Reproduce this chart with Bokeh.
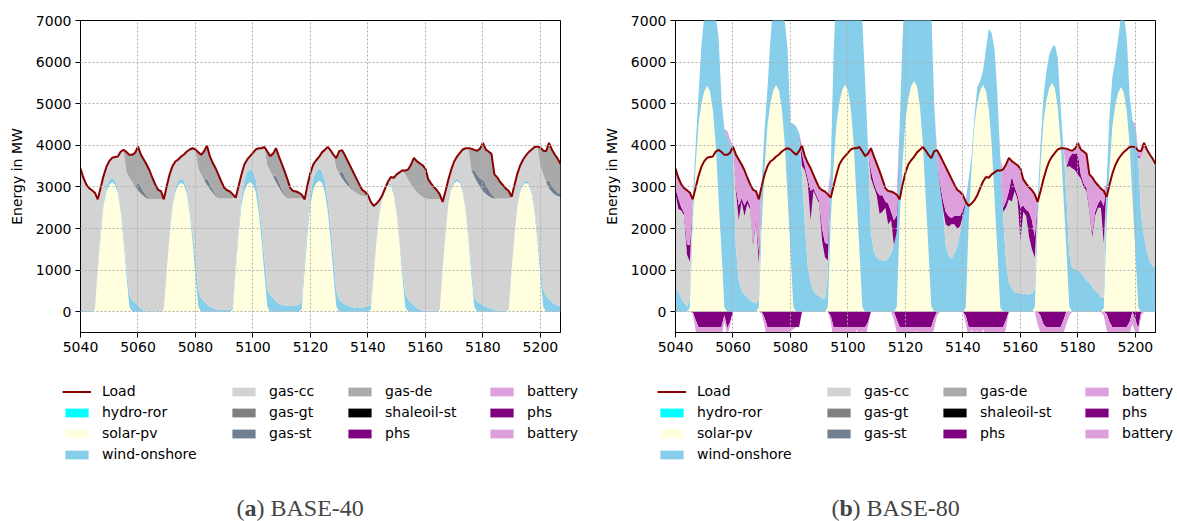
from bokeh.plotting import figure
from bokeh.models import ColumnDataSource, Range1d, FixedTicker, Legend, LegendItem, Label
from bokeh.layouts import row, column
from bokeh.embed import file_html
from bokeh.resources import INLINE

HOURS = list(range(5040, 5208))
X_TICKS = [5040, 5060, 5080, 5100, 5120, 5140, 5160, 5180, 5200]
Y_TICKS = [0, 1000, 2000, 3000, 4000, 5000, 6000, 7000]

LOAD = [
    3440, 3220, 3060, 2970, 2920, 2860, 2700, 2980, 3260, 3480, 3620, 3700, 3720, 3730, 3850, 3890, 3840, 3770, 3770, 3820, 3970, 3780, 3660, 3540,
    3400, 3220, 3060, 2930, 2900, 2700, 3020, 3300, 3500, 3610, 3660, 3730, 3780, 3850, 3900, 3930, 3900, 3830, 3770, 3860, 3990, 3740, 3580, 3450,
    3290, 3130, 2980, 2920, 2890, 2820, 2740, 3020, 3300, 3540, 3660, 3740, 3820, 3900, 3930, 3930, 3960, 3850, 3740, 3800, 3930, 3740, 3560, 3380,
    3180, 2970, 2900, 2890, 2860, 2810, 2700, 3060, 3340, 3540, 3640, 3720, 3830, 3890, 3960, 3880, 3770, 3690, 3860, 3880, 3760, 3620, 3480, 3340,
    3200, 3060, 2930, 2880, 2800, 2640, 2540, 2600, 2680, 2800, 2970, 3130, 3240, 3220, 3300, 3350, 3400, 3390, 3420, 3540, 3700, 3620, 3570, 3520,
    3440, 3180, 3080, 2990, 2920, 2820, 2640, 2900, 3180, 3420, 3610, 3730, 3820, 3900, 3930, 3930, 3920, 3890, 3870, 3920, 4060, 3900, 3850, 3790,
    3300, 3230, 3120, 3040, 2960, 2900, 2760, 3050, 3320, 3520, 3660, 3760, 3840, 3900, 3960, 3970, 3950, 3870, 3860, 4060, 3900, 3780, 3680, 3550,
]

# ---------------- BASE-40 ----------------
A_SOLAR = [
    0, 0, 0, 0, 0, 60, 1000, 1850, 2550, 2900, 3050, 3110, 3060, 2850, 2400, 1700, 880, 120, 0, 0, 0, 0, 0, 0,
    0, 0, 0, 0, 0, 50, 980, 1820, 2520, 2880, 3040, 3100, 3050, 2830, 2380, 1680, 860, 110, 0, 0, 0, 0, 0, 0,
    0, 0, 0, 0, 0, 60, 1010, 1860, 2560, 2910, 3060, 3110, 3070, 2860, 2400, 1720, 890, 120, 0, 0, 0, 0, 0, 0,
    0, 0, 0, 0, 0, 70, 1030, 1880, 2590, 2940, 3090, 3150, 3100, 2880, 2430, 1740, 900, 130, 0, 0, 0, 0, 0, 0,
    0, 0, 0, 0, 0, 50, 900, 1700, 2350, 2700, 2900, 3050, 3020, 2800, 2350, 1650, 850, 100, 0, 0, 0, 0, 0, 0,
    0, 0, 0, 0, 0, 60, 1000, 1860, 2580, 2940, 3090, 3140, 3090, 2870, 2420, 1720, 880, 120, 0, 0, 0, 0, 0, 0,
    0, 0, 0, 0, 0, 50, 980, 1830, 2530, 2890, 3040, 3100, 3050, 2830, 2380, 1690, 860, 110, 0, 0, 0, 0, 0, 0,
]
A_WIND = [
    40, 30, 20, 20, 20, 30, 60, 80, 100, 110, 110, 110, 100, 80, 80, 120, 200, 300, 270, 220, 150, 70, 30, 20,
    10, 10, 10, 10, 10, 10, 20, 40, 60, 80, 100, 110, 110, 100, 120, 200, 350, 400, 320, 250, 180, 120, 80, 60,
    50, 40, 40, 50, 50, 60, 60, 100, 180, 250, 300, 320, 320, 300, 280, 300, 380, 420, 400, 330, 250, 200, 170, 150,
    140, 140, 140, 150, 160, 180, 200, 200, 230, 260, 280, 290, 280, 260, 260, 320, 420, 380, 280, 220, 180, 150, 120, 100,
    90, 90, 100, 110, 130, 100, 60, 40, 30, 30, 40, 50, 50, 50, 50, 80, 200, 320, 300, 230, 150, 90, 50, 30,
    20, 20, 20, 20, 20, 20, 20, 20, 30, 40, 50, 60, 60, 60, 60, 100, 200, 230, 240, 200, 160, 120, 90, 60,
    40, 30, 30, 20, 20, 20, 20, 20, 30, 40, 50, 60, 60, 60, 70, 150, 300, 420, 380, 300, 230, 180, 150, 140,
]
A_GAS_CC = [
    3400, 3190, 3040, 2950, 2900, 2770, 1640, 1050, 610, 470, 460, 480, 560, 800, 1370, 2070, 2270, 2800, 2840, 2780, 2770, 2770, 2750, 2710,
    2700, 2700, 2700, 2700, 2700, 2640, 2020, 1440, 920, 650, 520, 520, 620, 920, 1400, 2050, 2690, 2930, 2970, 2910, 2870, 2830, 2780, 2720,
    2670, 2680, 2680, 2670, 2670, 2600, 1670, 1060, 560, 380, 300, 310, 430, 740, 1250, 1910, 2690, 2960, 2980, 2920, 2870, 2800, 2710, 2630,
    2580, 2580, 2580, 2570, 2560, 2470, 1470, 980, 520, 340, 270, 280, 450, 750, 1270, 1820, 2450, 2940, 3040, 2980, 2930, 2880, 2840, 2800,
    2760, 2720, 2690, 2670, 2650, 2490, 1580, 860, 300, 70, 30, 30, 170, 370, 900, 1620, 2350, 2880, 2880, 2830, 2810, 2790, 2760, 2730,
    2700, 2690, 2690, 2690, 2690, 2630, 1620, 1020, 570, 440, 470, 530, 670, 970, 1450, 2110, 2320, 2900, 2880, 2800, 2740, 2710, 2690, 2680,
    2680, 2690, 2690, 2700, 2700, 2650, 1760, 1200, 760, 590, 570, 600, 730, 1010, 1510, 2130, 2340, 2770, 2740, 2660, 2650, 2640, 2630, 2620,
]
A_GAS_ST = [
    0, 0, 0, 0, 0, 0, 0, 0, 0, 0, 0, 0, 0, 0, 0, 0, 0, 0, 0, 0, 200, 150, 100, 50,
    0, 0, 0, 0, 0, 0, 0, 0, 0, 0, 0, 0, 0, 0, 0, 0, 0, 0, 0, 0, 150, 120, 80, 40,
    0, 0, 0, 0, 0, 0, 0, 0, 0, 0, 0, 0, 0, 0, 0, 0, 0, 0, 0, 0, 150, 120, 80, 30,
    0, 0, 0, 0, 0, 0, 0, 0, 0, 0, 0, 0, 0, 0, 0, 0, 0, 0, 0, 170, 130, 90, 50, 0,
    0, 0, 0, 0, 0, 0, 0, 0, 0, 0, 0, 0, 0, 0, 0, 0, 0, 0, 0, 0, 0, 0, 0, 0,
    0, 0, 0, 0, 0, 0, 0, 0, 0, 0, 0, 0, 0, 0, 0, 0, 0, 150, 180, 200, 300, 230, 160, 90,
    30, 0, 0, 0, 0, 0, 0, 0, 0, 0, 0, 0, 0, 0, 0, 0, 0, 0, 0, 200, 150, 120, 80, 60,
]
A_GAS_DE = [
    0, 0, 0, 0, 0, 0, 0, 0, 0, 0, 0, 0, 0, 0, 0, 0, 490, 550, 660, 820, 850, 790, 780, 760,
    690, 510, 350, 220, 190, 0, 0, 0, 0, 0, 0, 0, 0, 0, 0, 0, 0, 390, 480, 700, 790, 670, 640, 630,
    570, 410, 260, 200, 170, 100, 0, 0, 0, 0, 0, 0, 0, 0, 0, 0, 0, 350, 360, 550, 660, 620, 600, 570,
    460, 250, 180, 170, 140, 90, 0, 0, 0, 0, 0, 0, 0, 0, 0, 0, 0, 240, 540, 510, 520, 500, 470, 440,
    350, 250, 140, 100, 20, 0, 0, 0, 0, 0, 0, 0, 0, 0, 0, 0, 0, 90, 240, 480, 740, 740, 760, 760,
    720, 470, 370, 280, 210, 110, 0, 0, 0, 0, 0, 0, 0, 0, 0, 0, 520, 490, 570, 720, 860, 840, 910, 960,
    550, 510, 400, 320, 240, 180, 0, 0, 0, 0, 0, 0, 0, 0, 0, 0, 450, 570, 740, 900, 870, 840, 820, 730,
]

# ---------------- BASE-80 ----------------
B_SOLAR = [
    0, 0, 0, 0, 0, 100, 2150, 3500, 4500, 5000, 5300, 5440, 5300, 4850, 4000, 2700, 1450, 100, 0, 0, 0, 0, 0, 0,
    0, 0, 0, 0, 0, 100, 2100, 3450, 4480, 5000, 5320, 5450, 5320, 4880, 4050, 2750, 1450, 120, 0, 0, 0, 0, 0, 0,
    0, 0, 0, 0, 0, 110, 2150, 3500, 4520, 5020, 5330, 5460, 5320, 4870, 4030, 2720, 1460, 110, 0, 0, 0, 0, 0, 0,
    0, 0, 0, 0, 0, 120, 2200, 3560, 4600, 5120, 5420, 5550, 5420, 4950, 4100, 2780, 1500, 130, 0, 0, 0, 0, 0, 0,
    0, 0, 0, 0, 0, 100, 2120, 3480, 4500, 5010, 5320, 5450, 5310, 4860, 4020, 2710, 1440, 100, 0, 0, 0, 0, 0, 0,
    0, 0, 0, 0, 0, 110, 2150, 3520, 4550, 5060, 5370, 5500, 5370, 4910, 4060, 2740, 1470, 120, 0, 0, 0, 0, 0, 0,
    0, 0, 0, 0, 0, 90, 2080, 3440, 4450, 4960, 5260, 5400, 5260, 4820, 3990, 2690, 1430, 100, 0, 0, 0, 0, 0, 0,
]
B_WIND = [
    600, 470, 330, 210, 120, 200, 450, 500, 700, 1400, 1800, 2200, 2600, 2950, 3100, 3900, 3650, 4300, 4200, 4050, 3900, 1550, 750, 500,
    420, 350, 280, 230, 200, 200, 1000, 950, 900, 1500, 2100, 2600, 3000, 3300, 2950, 3550, 3100, 4400, 4450, 4300, 3300, 2100, 1100, 700,
    500, 420, 380, 320, 310, 790, 1300, 2700, 3300, 3500, 3800, 4000, 4100, 4200, 4300, 4800, 6000, 6900, 5500, 3900, 1900, 1450, 1300, 1250,
    1230, 1230, 1280, 1400, 1600, 1800, 2300, 3000, 3600, 4000, 4300, 4500, 4700, 4800, 4900, 5200, 6000, 7100, 5000, 3700, 3000, 2500, 1600, 1350,
    1270, 1400, 1550, 1900, 2300, 2500, 1080, 270, 200, 390, 230, 350, 990, 1940, 2680, 3590, 3760, 3600, 2300, 1200, 700, 550, 470, 450,
    440, 430, 420, 420, 430, 450, 500, 500, 600, 700, 800, 850, 1050, 1200, 840, 1160, 1330, 1280, 1050, 1030, 1000, 950, 850, 750,
    700, 600, 500, 470, 350, 250, 1020, 1300, 1200, 1100, 1300, 1700, 1900, 1780, 1210, 1910, 2970, 3600, 2300, 1800, 1450, 1200, 1100, 1050,
]
B_GAS_CC = [
    2250, 2000, 2100, 2100, 1250, 900, 0, 0, 0, 0, 0, 0, 0, 0, 0, 0, 0, 0, 0, 0, 0, 1350, 1450, 2150,
    1880, 2250, 2170, 1370, 2000, 850, 0, 0, 0, 0, 0, 0, 0, 0, 0, 0, 0, 0, 0, 0, 200, 1300, 2000, 1500,
    2400, 2330, 2220, 1380, 1000, 330, 0, 0, 0, 0, 0, 0, 0, 0, 0, 0, 0, 0, 0, 0, 1300, 1550, 1500, 1100,
    1170, 1270, 820, 800, 0, 0, 0, 0, 0, 0, 0, 0, 0, 0, 0, 0, 0, 0, 0, 0, 0, 0, 500, 700,
    830, 700, 450, 150, 0, 0, 0, 0, 0, 0, 0, 0, 0, 0, 0, 0, 0, 0, 100, 1300, 2000, 2100, 2430, 2250,
    1260, 1970, 1880, 1380, 1070, 740, 0, 0, 0, 0, 0, 0, 0, 0, 0, 0, 670, 2100, 2400, 2370, 2300, 2250, 2150, 2150,
    1700, 1200, 1800, 2030, 2150, 1300, 0, 0, 0, 0, 0, 0, 0, 0, 0, 0, 0, 0, 1400, 2100, 2400, 2580, 2580, 2500,
]
B_PHS = [
    120, 250, 80, 60, 250, 400, 0, 0, 0, 0, 0, 0, 0, 0, 0, 0, 0, 0, 0, 0, 0, 100, 350, 80,
    250, 100, 80, 80, 80, 300, 0, 0, 0, 0, 0, 0, 0, 0, 0, 0, 0, 0, 0, 0, 300, 100, 100, 700,
    60, 60, 60, 300, 350, 400, 0, 0, 0, 0, 0, 0, 0, 0, 0, 0, 0, 0, 0, 0, 200, 100, 100, 450,
    400, 150, 500, 200, 600, 400, 0, 0, 0, 0, 0, 0, 0, 0, 0, 0, 0, 0, 0, 0, 100, 200, 300, 250,
    150, 200, 300, 250, 150, 40, 0, 0, 0, 0, 0, 0, 0, 0, 0, 0, 0, 0, 100, 150, 200, 600, 100, 100,
    800, 150, 150, 600, 700, 500, 0, 0, 0, 0, 0, 0, 0, 0, 0, 0, 0, 200, 350, 400, 500, 100, 80, 80,
    80, 100, 100, 100, 200, 900, 0, 0, 0, 0, 0, 0, 0, 0, 0, 0, 0, 50, 0, 0, 0, 0, 0, 0,
]
B_BATTERY = [
    470, 500, 550, 600, 1300, 1260, 100, 0, 0, 0, 0, 0, 0, 0, 0, 0, 0, 0, 150, 100, 70, 780, 1110, 810,
    850, 520, 530, 1250, 620, 1250, 0, 0, 0, 0, 0, 0, 0, 0, 0, 0, 0, 0, 0, 0, 190, 240, 380, 550,
    330, 320, 320, 920, 1230, 1190, 0, 0, 0, 0, 0, 0, 0, 0, 0, 0, 0, 0, 0, 0, 530, 640, 660, 580,
    380, 320, 300, 490, 660, 490, 0, 0, 0, 0, 0, 0, 0, 0, 0, 0, 0, 0, 0, 180, 660, 920, 1080, 1040,
    950, 760, 630, 580, 350, 0, 0, 0, 0, 0, 0, 0, 0, 0, 0, 0, 0, 0, 920, 890, 800, 370, 570, 720,
    940, 630, 630, 590, 720, 1020, 0, 0, 0, 0, 0, 0, 0, 0, 0, 30, 450, 190, 70, 120, 260, 600, 770, 810,
    820, 1330, 720, 440, 260, 360, 0, 0, 0, 0, 0, 0, 0, 0, 0, 0, 100, 120, 160, 160, 50, 0, 0, 0,
]
B_PHS_CHARGE = [
    0, 0, 0, 0, 0, 0, 0, -200, -370, -370, -370, -370, -370, -370, -370, -370, -370, -80, -400, -250, 0, 0, 0, 0,
    0, 0, 0, 0, 0, 0, 0, -150, -370, -370, -370, -370, -370, -370, -370, -370, -370, -370, -370, -370, 0, 0, 0, 0,
    0, 0, 0, 0, 0, 0, -100, -370, -370, -370, -370, -370, -370, -370, -370, -370, -370, -370, -370, -250, 0, 0, 0, 0,
    0, 0, 0, 0, 0, -200, -370, -370, -370, -370, -370, -370, -370, -370, -370, -370, -370, -370, -150, 0, 0, 0, 0, 0,
    0, 0, 0, 0, 0, -100, -370, -370, -370, -370, -370, -370, -370, -370, -370, -370, -370, -370, -370, -200, 0, 0, 0, 0,
    0, 0, 0, 0, 0, 0, 0, -100, -300, -370, -370, -370, -370, -370, -370, -200, 0, 0, 0, 0, 0, 0, 0, 0,
    0, 0, 0, 0, 0, 0, -50, -250, -370, -370, -370, -370, -370, -370, -250, 0, -200, -400, 0, 0, 0, 0, 0, 0,
]
B_BATTERY_CHARGE = [
    0, 0, 0, 0, 0, 0, -50, -250, -300, -300, -300, -300, -300, -300, -300, -300, -250, -150, -150, -100, 0, 0, 0, 0,
    0, 0, 0, 0, 0, 0, -50, -200, -300, -300, -300, -300, -300, -300, -300, -300, -100, -50, 0, 0, 0, 0, 0, 0,
    0, 0, 0, 0, 0, 0, -150, -300, -300, -300, -300, -300, -100, -300, -300, -60, -300, -300, -300, -100, 0, 0, 0, 0,
    0, 0, 0, 0, -200, -300, -250, -250, -250, -250, -250, -250, -80, -250, -250, -250, -250, -250, -250, -100, 0, 0, 0, 0,
    0, 0, 0, 0, 0, -200, -250, -60, -250, -80, -250, -50, -250, -250, -250, -250, -250, -250, -250, -200, 0, 0, 0, 0,
    0, 0, 0, 0, 0, 0, -300, -400, -300, -250, -250, -250, -250, -250, -250, -300, -300, -100, 0, 0, 0, 0, 0, 0,
    0, 0, 0, 0, 0, -100, -400, -300, -250, -250, -250, -250, -250, -250, -250, -300, -300, -150, -100, 0, 0, 0, 0, 0,
]
ZERO = [0] * len(HOURS)

POS_ORDER = ["hydro-ror", "solar-pv", "wind-onshore", "gas-cc", "gas-gt", "gas-st",
             "gas-de", "shaleoil-st", "phs", "battery"]
COLORS = {"hydro-ror": "#00ffff", "solar-pv": "#ffffe0", "wind-onshore": "#87ceeb",
          "gas-cc": "#d3d3d3", "gas-gt": "#808080", "gas-st": "#708090",
          "gas-de": "#a9a9a9", "shaleoil-st": "#000000", "phs": "#800080",
          "battery": "#dda0dd"}

A_POS = {"hydro-ror": ZERO, "solar-pv": A_SOLAR, "wind-onshore": A_WIND, "gas-cc": A_GAS_CC,
         "gas-gt": ZERO, "gas-st": A_GAS_ST, "gas-de": A_GAS_DE, "shaleoil-st": ZERO,
         "phs": ZERO, "battery": ZERO}
A_NEG = {"phs": ZERO, "battery": ZERO}
B_POS = {"hydro-ror": ZERO, "solar-pv": B_SOLAR, "wind-onshore": B_WIND, "gas-cc": B_GAS_CC,
         "gas-gt": ZERO, "gas-st": ZERO, "gas-de": ZERO, "shaleoil-st": ZERO,
         "phs": B_PHS, "battery": B_BATTERY}
B_NEG = {"phs": B_PHS_CHARGE, "battery": B_BATTERY_CHARGE}

for arr in [LOAD, A_SOLAR, A_WIND, A_GAS_CC, A_GAS_ST, A_GAS_DE, B_SOLAR, B_WIND, B_GAS_CC,
            B_PHS, B_BATTERY, B_PHS_CHARGE, B_BATTERY_CHARGE]:
    assert len(arr) == len(HOURS), len(arr)

FONT = "DejaVu Sans"
TOP = 20          # frame top in page px
FRAME_H = 312
MAIN_H = 362      # height of the chart figure
TOTAL_H = 521


def add_series(p, src):
    keys = ["pos%d" % i for i in range(len(POS_ORDER))]
    pos_r = p.varea_stack(stackers=keys, x="hour", source=src,
                          fill_color=[COLORS[n] for n in POS_ORDER])
    neg_r = p.varea_stack(stackers=["neg0", "neg1"], x="hour", source=src,
                          fill_color=[COLORS["phs"], COLORS["battery"]])
    load_r = p.line("hour", "load", source=src, line_color="#8b0000", line_width=2)
    return pos_r, neg_r, load_r


def make_panel(pos, neg, letter, rest, border_left, border_right):
    data = {"hour": HOURS, "load": LOAD}
    for i, name in enumerate(POS_ORDER):
        data["pos%d" % i] = pos[name]
    data["neg0"] = neg["phs"]
    data["neg1"] = neg["battery"]
    src = ColumnDataSource(data)

    width = border_left + 480 + border_right
    p = figure(width=width, height=MAIN_H, output_backend="svg", toolbar_location=None,
               x_range=Range1d(5040, 5207), y_range=Range1d(-500, 7000),
               min_border_left=border_left, min_border_right=border_right,
               min_border_top=TOP, min_border_bottom=MAIN_H - TOP - FRAME_H)
    p.background_fill_color = "white"
    p.border_fill_color = "white"
    p.outline_line_color = "black"
    p.outline_line_width = 1
    add_series(p, src)

    for ax in (p.xaxis[0], p.yaxis[0]):
        ax.major_label_text_font = FONT
        ax.major_label_text_font_size = "14px"
        ax.major_label_text_color = "black"
        ax.axis_line_color = "black"
        ax.major_tick_line_color = "black"
        ax.major_tick_out = 5
        ax.major_tick_in = 0
        ax.minor_tick_line_color = None
        ax.major_label_standoff = 4
    p.xaxis.ticker = FixedTicker(ticks=X_TICKS)
    p.yaxis.ticker = FixedTicker(ticks=Y_TICKS)
    p.yaxis.axis_label = "Energy in MW"
    p.yaxis.axis_label_text_font = FONT
    p.yaxis.axis_label_text_font_size = "14px"
    p.yaxis.axis_label_text_font_style = "normal"
    p.yaxis.axis_label_text_color = "black"
    p.yaxis.axis_label_standoff = 8

    p.grid.grid_line_color = "#b0b0b0"
    p.grid.grid_line_dash = "2 2"
    p.grid.grid_line_width = 1
    p.grid.level = "guide"

    # legend + caption panel below the chart; its frame spans the whole panel
    lh = TOTAL_H - MAIN_H
    lf = figure(width=width, height=lh, output_backend="svg", toolbar_location=None,
                x_axis_type=None, y_axis_type=None,
                x_range=Range1d(0, 1), y_range=Range1d(0, 1),
                min_border=0, min_border_left=0, min_border_right=0,
                min_border_top=0, min_border_bottom=0)
    lf.frame_align = False
    lf.outline_line_color = None
    lf.background_fill_color = "white"
    lf.border_fill_color = "white"
    pos_r, neg_r, load_r = add_series(lf, src)   # legend proxies (outside view)

    columns = [
        [("Load", load_r), ("hydro-ror", pos_r[0]), ("solar-pv", pos_r[1]), ("wind-onshore", pos_r[2])],
        [("gas-cc", pos_r[3]), ("gas-gt", pos_r[4]), ("gas-st", pos_r[5])],
        [("gas-de", pos_r[6]), ("shaleoil-st", pos_r[7]), ("phs", pos_r[8])],
        [("battery", pos_r[9]), ("phs", neg_r[0]), ("battery", neg_r[1])],
    ]
    col_x = [-18, 149, 265, 407]
    for cx, col in zip(col_x, columns):
        items = [LegendItem(label=lbl, renderers=[r]) for lbl, r in col]
        h = len(col) * 20 + (len(col) - 1) * 1
        bottom_page = 381 + h
        leg = Legend(items=items, location=(border_left + cx, TOTAL_H - bottom_page),
                     orientation="vertical",
                     glyph_width=29, glyph_height=11, label_standoff=11, spacing=1,
                     padding=0, margin=0, label_height=20,
                     border_line_alpha=0, background_fill_alpha=0,
                     label_text_font=FONT, label_text_font_size="14px",
                     label_text_color="black")
        lf.add_layout(leg)

    cap_font = "Liberation Serif"
    cap_y = TOTAL_H - 507
    x0 = border_left + 156
    lf.add_layout(Label(x=x0, y=cap_y, x_units="screen", y_units="screen", text="(",
                        text_font=cap_font, text_font_size="24px", text_baseline="middle"))
    lf.add_layout(Label(x=x0 + 8, y=cap_y, x_units="screen", y_units="screen", text=letter,
                        text_font=cap_font, text_font_size="24px", text_font_style="bold",
                        text_baseline="middle"))
    lf.add_layout(Label(x=x0 + 8 + (12 if letter == "a" else 13), y=cap_y, x_units="screen",
                        y_units="screen", text=rest, text_font=cap_font, text_font_size="24px",
                        text_baseline="middle"))
    return column(p, lf)


c1 = make_panel(A_POS, A_NEG, "a", ") BASE-40", 80, 30)
c2 = make_panel(B_POS, B_NEG, "b", ") BASE-80", 85, 20)
layout = row(c1, c2)

open("out.html", "w").write(file_html(layout, INLINE))
